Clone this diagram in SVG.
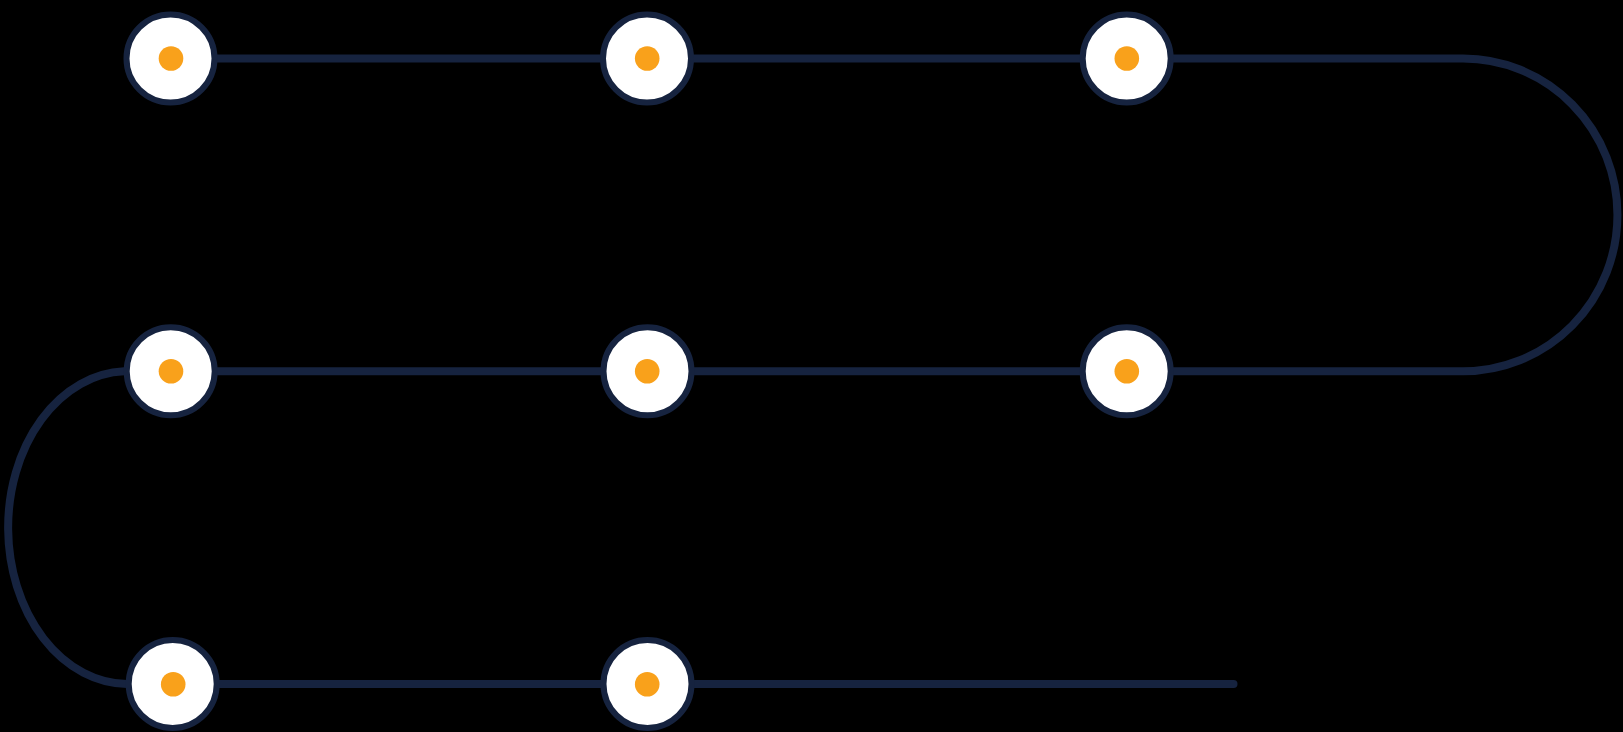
<svg xmlns="http://www.w3.org/2000/svg" width="1623" height="732" viewBox="0 0 1623 732">
  <defs>
    <style>
      .conn { fill: none; stroke: #16233F; stroke-width: 8; stroke-linecap: round; }
      .ring { fill: #FFFFFF; stroke: #16233F; stroke-width: 6; }
      .dot { fill: #F9A11B; }
    </style>
  </defs>
  <rect x="0" y="0" width="1623" height="732" fill="#000000"/>
  <g id="connectors">
    <path class="conn" d="M170.5 58.5 H1463 A154.5 156.4 0 0 1 1463 371.3 H124 A120 156.4 0 0 0 127 684 H1233.5"/>
  </g>
  <g id="node-1"><circle class="ring" cx="170.5" cy="58.5" r="44"/><circle class="dot" cx="171" cy="58.5" r="12.3"/></g>
  <g id="node-2"><circle class="ring" cx="647" cy="58.5" r="44"/><circle class="dot" cx="647.2" cy="58.5" r="12.3"/></g>
  <g id="node-3"><circle class="ring" cx="1126.7" cy="58.5" r="44"/><circle class="dot" cx="1126.8" cy="58.5" r="12.3"/></g>
  <g id="node-4"><circle class="ring" cx="1126.7" cy="371.3" r="44"/><circle class="dot" cx="1126.8" cy="371.3" r="12.3"/></g>
  <g id="node-5"><circle class="ring" cx="647.5" cy="371.3" r="44"/><circle class="dot" cx="647.2" cy="371.3" r="12.3"/></g>
  <g id="node-6"><circle class="ring" cx="170.7" cy="371.3" r="44"/><circle class="dot" cx="171" cy="371.3" r="12.3"/></g>
  <g id="node-7"><circle class="ring" cx="172.7" cy="684" r="44"/><circle class="dot" cx="173.2" cy="684.2" r="12.3"/></g>
  <g id="node-8"><circle class="ring" cx="647.5" cy="684" r="44"/><circle class="dot" cx="647.2" cy="684.2" r="12.3"/></g>
</svg>
